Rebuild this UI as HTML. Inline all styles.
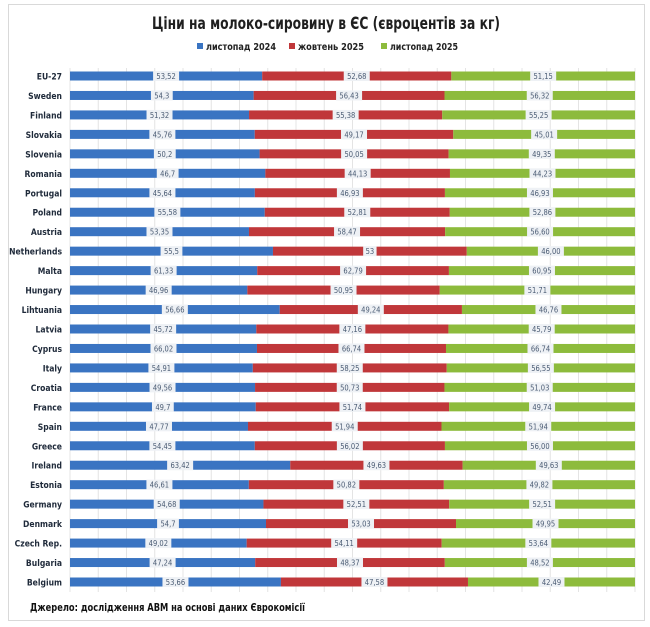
<!DOCTYPE html>
<html><head><meta charset="utf-8"><style>
body{margin:0;background:#fff;}
svg{display:block;font-family:"Liberation Sans","DejaVu Sans",sans-serif;}
</style></head><body>
<svg id="c" width="650" height="627" xmlns="http://www.w3.org/2000/svg">
<rect x="8.5" y="4.5" width="636" height="616" fill="#fff" stroke="#d9d9d9"/>
<text x="152" y="29" textLength="348" lengthAdjust="spacingAndGlyphs" font-size="17" font-weight="bold" fill="#1f1f1f" font-family="DejaVu Sans Condensed, DejaVu Sans, sans-serif">Ціни на молоко-сировину в ЄС (євроцентів за кг)</text>
<g font-size="10" font-weight="bold" fill="#222" font-family="DejaVu Sans Condensed, DejaVu Sans, sans-serif">
<rect x="197" y="43" width="6" height="6" fill="#3a74c2"/><text x="206" y="50" textLength="70" lengthAdjust="spacingAndGlyphs">листопад 2024</text>
<rect x="289" y="43" width="6" height="6" fill="#c0373a"/><text x="298" y="50" textLength="66" lengthAdjust="spacingAndGlyphs">жовтень 2025</text>
<rect x="381" y="43" width="6" height="6" fill="#8dbb3c"/><text x="390" y="50" textLength="68" lengthAdjust="spacingAndGlyphs">листопад 2025</text>
</g>
<g id="g"></g>
<text x="30" y="611" textLength="275" lengthAdjust="spacingAndGlyphs" font-size="10.5" font-weight="bold" fill="#111" font-family="DejaVu Sans Condensed, DejaVu Sans, sans-serif">Джерело: дослідження АВМ на основі даних Єврокомісії</text>
</svg>
<script>
var d=[["EU-27","53,52","52,68","51,15"],["Sweden","54,3","56,43","56,32"],["Finland","51,32","55,38","55,25"],["Slovakia","45,76","49,17","45,01"],["Slovenia","50,2","50,05","49,35"],["Romania","46,7","44,13","44,23"],["Portugal","45,64","46,93","46,93"],["Poland","55,58","52,81","52,86"],["Austria","53,35","58,47","56,60"],["Netherlands","55,5","53","46,00"],["Malta","61,33","62,79","60,95"],["Hungary","46,96","50,95","51,71"],["Lihtuania","56,66","49,24","46,76"],["Latvia","45,72","47,16","45,79"],["Cyprus","66,02","66,74","66,74"],["Italy","54,91","58,25","56,55"],["Croatia","49,56","50,73","51,03"],["France","49,7","51,74","49,74"],["Spain","47,77","51,94","51,94"],["Greece","54,45","56,02","56,00"],["Ireland","63,42","49,63","49,63"],["Estonia","46,61","50,82","49,82"],["Germany","54,68","52,51","52,51"],["Denmark","54,7","53,03","49,95"],["Czech Rep.","49,02","54,11","53,64"],["Bulgaria","47,24","48,37","48,52"],["Belgium","53,66","47,58","42,49"]];
var X0=70,W=565,s='',cols=["#3a74c2","#c0373a","#8dbb3c"];
var n=d.length,y0=76,step=(582-76)/(n-1);
for(var k=0;k<=20;k++){var gx=X0+W*k/20;s+='<line x1="'+gx+'" x2="'+gx+'" y1="68" y2="592" stroke="#e4e4e4" stroke-width="1"/>';}
d.forEach(function(r,i){var y=y0+i*step,v=r.slice(1).map(function(t){return parseFloat(t.replace(',','.'))});var tot=v[0]+v[1]+v[2],x=X0;
s+='<text x="62" y="'+(y+3.5)+'" text-anchor="end" font-size="8.5" font-weight="bold" fill="#1f2a3a" font-family="DejaVu Sans Condensed, DejaVu Sans, sans-serif">'+r[0]+'</text>';
for(var j=0;j<3;j++){var w=W*v[j]/tot;s+='<rect x="'+x+'" y="'+(y-4.5)+'" width="'+w+'" height="9" fill="'+cols[j]+'"/>';
var cx=x+w/2,lw=r[j+1].length*4.2+5;s+='<rect x="'+(cx-lw/2)+'" y="'+(y-5)+'" width="'+lw+'" height="10" fill="#eef1f5"/>';
s+='<text x="'+cx+'" y="'+(y+3)+'" text-anchor="middle" font-size="7.5" fill="#4a5b73" font-family="DejaVu Sans Condensed, DejaVu Sans, sans-serif">'+r[j+1]+'</text>';x+=w;}
});
document.getElementById('g').innerHTML=s;
</script>
</body></html>
